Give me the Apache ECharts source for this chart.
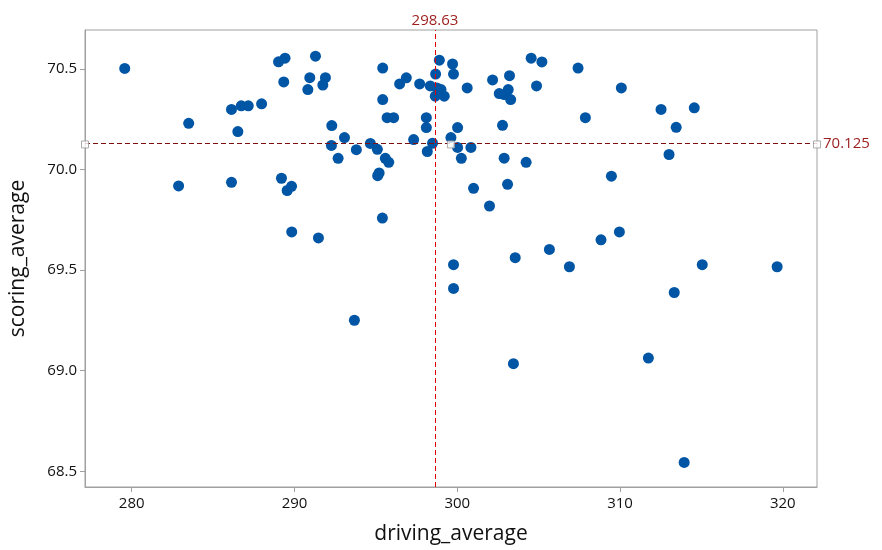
<!DOCTYPE html>
<html>
<head>
<meta charset="utf-8">
<script src="https://cdn.jsdelivr.net/npm/echarts@6/dist/echarts.min.js"></script>
<style>
  html, body { margin: 0; padding: 0; background: #fff; }
  #main { width: 882px; height: 550px; }
</style>
</head>
<body>
<div id="main"></div>
<script type="text/javascript">
    // driving_average vs scoring_average
    var drivingAvg = [
        279.57, 282.88, 283.50, 286.13, 286.73, 287.16, 287.98, 286.52, 286.13, 289.02,
        289.42, 289.34, 289.20, 289.55, 289.82, 289.83, 291.29, 290.94, 291.90, 291.74,
        290.82, 291.47, 292.29, 293.07, 292.27, 292.68, 293.80, 294.66, 295.09, 295.11,
        295.20, 293.68, 295.42, 295.42, 295.69, 296.09, 295.58, 295.79, 295.40, 296.46,
        296.87, 297.69, 297.32, 298.10, 298.10, 298.48, 298.16, 298.34, 298.75, 299.00,
        298.65, 299.20, 298.90, 298.67, 299.71, 299.77, 299.61, 300.02, 300.02, 300.25,
        299.77, 299.77, 300.61, 300.84, 301.00, 301.98, 302.17, 303.21, 302.58, 302.88,
        303.13, 303.28, 302.78, 302.88, 303.09, 303.45, 303.56, 304.54, 305.20, 304.87,
        304.23, 305.66, 306.89, 307.42, 307.87, 308.83, 309.47, 309.96, 310.08, 311.74,
        312.52, 313.01, 313.45, 313.33, 313.94, 314.56, 315.05, 319.65
    ];
    var scoringAvg = [
        70.503, 69.919, 70.230, 70.299, 70.317, 70.317, 70.327, 70.189, 69.937, 70.536,
        70.554, 70.436, 69.957, 69.896, 69.917, 69.690, 70.564, 70.457, 70.457, 70.420,
        70.398, 69.660, 70.219, 70.159, 70.120, 70.056, 70.099, 70.130, 70.101, 69.970,
        69.983, 69.251, 70.505, 70.348, 70.258, 70.258, 70.056, 70.036, 69.759, 70.426,
        70.456, 70.426, 70.149, 70.258, 70.209, 70.131, 70.090, 70.416, 70.406, 70.398,
        70.365, 70.365, 70.544, 70.475, 70.525, 70.475, 70.159, 70.209, 70.110, 70.056,
        69.527, 69.409, 70.406, 70.110, 69.907, 69.819, 70.446, 70.467, 70.378, 70.373,
        70.398, 70.348, 70.220, 70.057, 69.927, 69.035, 69.562, 70.554, 70.535, 70.416,
        70.036, 69.603, 69.517, 70.505, 70.258, 69.651, 69.967, 69.690, 70.406, 69.063,
        70.299, 70.075, 70.210, 69.389, 68.544, 70.307, 69.527, 69.517
    ];
    var xTicks = [280, 290, 300, 310, 320];
    var yTicks = [68.5, 69.0, 69.5, 70.0, 70.5];
    var xRange = [277.13, 322.1];
    var yRange = [68.422, 70.694];
    var xRef = 298.63;     // reference line on driving_average
    var yRef = 70.125;     // reference line on scoring_average
    var yRefHandles = [277.13, 299.61, 322.1];

    var points = [];
    for (var i = 0; i < drivingAvg.length; i++) {
        points.push([drivingAvg[i], scoringAvg[i]]);
    }
    var handles = [];
    for (var h = 0; h < yRefHandles.length; h++) {
        handles.push([yRefHandles[h], yRef]);
    }

    var font = '"Open Sans", "Noto Sans", sans-serif';
    var axisGray = '#a0a0a0';
    var refRed = '#e00000';
    var refDark = '#7a1212';
    var refText = '#9b1c1c';
    var myChart = echarts.init(document.getElementById('main'), null, {renderer: 'canvas'});

    var option = {
        backgroundColor: '#ffffff',
        animation: false,
        grid: {left: 84, top: 30, right: 65, bottom: 60, show: true, borderColor: axisGray, borderWidth: 1, backgroundColor: 'transparent'},
        xAxis: {
            type: 'value',
            min: xRange[0], max: xRange[1],
            name: 'driving_average',
            nameLocation: 'middle',
            nameGap: 37,
            nameTextStyle: {color: '#111', fontSize: 21, fontFamily: font},
            axisLine: {show: true, lineStyle: {color: axisGray}},
            axisTick: {show: true, length: 5, lineStyle: {color: axisGray}, customValues: xTicks},
            axisLabel: {color: '#111', fontSize: 15, fontFamily: font, margin: 9, customValues: xTicks},
            splitLine: {show: false}
        },
        yAxis: {
            type: 'value',
            min: yRange[0], max: yRange[1],
            name: 'scoring_average',
            nameLocation: 'middle',
            nameGap: 56,
            nameTextStyle: {color: '#111', fontSize: 21, fontFamily: font},
            axisLine: {show: true, lineStyle: {color: axisGray}},
            axisTick: {show: true, length: 5, lineStyle: {color: axisGray}, customValues: yTicks},
            axisLabel: {
                color: '#111', fontSize: 15, fontFamily: font, margin: 8, customValues: yTicks,
                formatter: function (v) { return v.toFixed(1); }
            },
            splitLine: {show: false}
        },
        series: [
            {
                name: 'players',
                type: 'scatter',
                symbol: 'circle',
                symbolSize: 11,
                itemStyle: {color: '#0055A4', opacity: 1},
                data: points,
                z: 3
            },
            {
                // vertical reference line
                name: 'xref',
                type: 'scatter',
                data: [],
                z: 4,
                markLine: {
                    silent: true,
                    symbol: ['none', 'none'],
                    animation: false,
                    lineStyle: {color: refRed, type: [5, 3], width: 1, opacity: 1},
                    label: {show: true, position: 'end', formatter: String(xRef), color: refText, fontSize: 15, fontFamily: font, distance: 2},
                    data: [{xAxis: xRef}]
                }
            },
            {
                // horizontal reference line
                name: 'yref',
                type: 'scatter',
                data: [],
                z: 4,
                markLine: {
                    silent: true,
                    symbol: ['none', 'none'],
                    animation: false,
                    lineStyle: {color: refDark, type: [5, 3], width: 1, opacity: 1},
                    label: {show: true, position: 'end', formatter: String(yRef), color: refText, fontSize: 15, fontFamily: font, distance: 6},
                    data: [{yAxis: yRef}]
                }
            },
            {
                name: 'handles',
                type: 'scatter',
                symbol: 'rect',
                symbolSize: 7,
                silent: true,
                itemStyle: {color: '#ffffff', borderColor: '#999999', borderWidth: 1},
                data: handles,
                z: 5
            }
        ]
    };
    myChart.setOption(option);
</script>
</body>
</html>
